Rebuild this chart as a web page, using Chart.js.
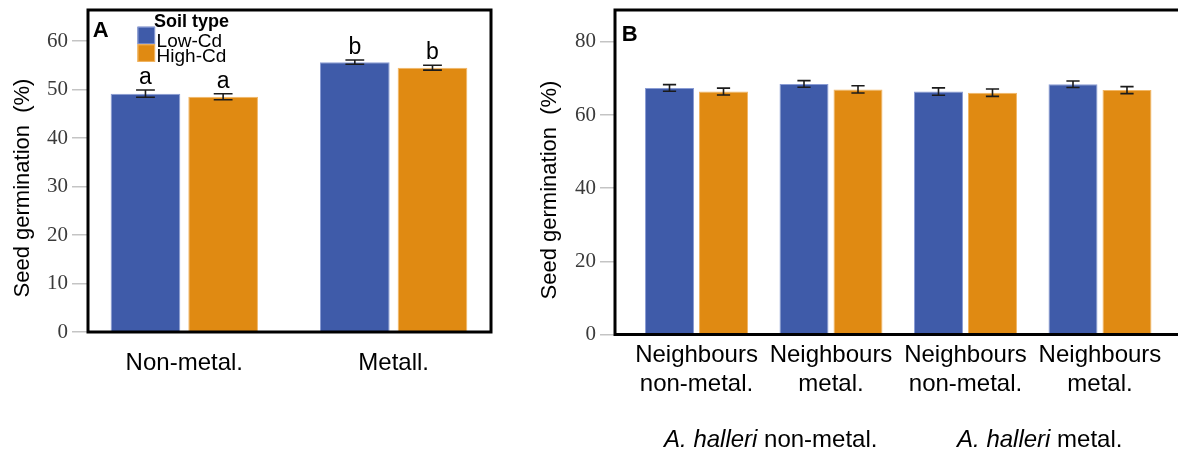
<!DOCTYPE html>
<html>
<head>
<meta charset="utf-8">
<script src="https://cdn.jsdelivr.net/npm/chart.js@4/dist/chart.umd.min.js"></script>
<style>
  html, body { margin: 0; padding: 0; background: #fff; }
  #wrap { position: relative; width: 1178px; height: 450px; overflow: hidden; }
  canvas { position: absolute; top: 0; }
  #panelA { left: 0; }
  #panelB { left: 530px; }
</style>
</head>
<body>
<div id="wrap">
  <canvas id="panelA" width="530" height="450"></canvas>
  <canvas id="panelB" width="648" height="450"></canvas>
</div>
<script>
// ---- Panel A: germination by seed origin ----
const originA = ['Non-metal.', 'Metall.'];
const lowCdA = [49.15, 55.65];
const highCdA = [48.5, 54.5];
const lowCdSeA = [0.75, 0.45];
const highCdSeA = [0.62, 0.5];
const lowCdLettersA = ['a', 'b'];
const highCdLettersA = ['a', 'b'];
const yTicksA = [0, 10, 20, 30, 40, 50, 60];

// ---- Panel B: germination by neighbour origin within A. halleri origin ----
const neighboursB = [
  ['Neighbours', 'non-metal.'],
  ['Neighbours', 'metal.'],
  ['Neighbours', 'non-metal.'],
  ['Neighbours', 'metal.']
];
const halleriB = ['non-metal.', 'metal.'];
const lowCdB = [67.4, 68.5, 66.4, 68.4];
const highCdB = [66.4, 67.0, 66.1, 66.8];
const lowCdSeB = [0.9, 0.9, 1.0, 0.9];
const highCdSeB = [0.95, 1.0, 1.0, 0.95];
const yTicksB = [0, 20, 40, 60, 80];

const soilTypes = ['Low-Cd', 'High-Cd'];
const yTitle = 'Seed germination  (%)';

const BLUE = '#3F5BA9', BLUE_EDGE = '#8A9CD4';
const ORANGE = '#E08A12', ORANGE_EDGE = '#F2B766';
const SANS = '"Liberation Sans", Arial, Helvetica, sans-serif';
const SERIF = '"Liberation Serif", "Times New Roman", serif';

// Black panel frame plus the panel letter
const framePlugin = {
  id: 'frame',
  afterDraw(chart, args, o) {
    const { ctx, chartArea: a } = chart;
    ctx.save();
    ctx.strokeStyle = '#000';
    ctx.lineWidth = 3;
    ctx.lineJoin = 'miter';
    ctx.beginPath();
    if (o.openRight) {
      ctx.moveTo(chart.width + 2, a.top);
      ctx.lineTo(a.left, a.top);
      ctx.lineTo(a.left, a.bottom);
      ctx.lineTo(chart.width + 2, a.bottom);
    } else {
      ctx.rect(a.left, a.top, a.right - a.left, a.bottom - a.top);
    }
    ctx.stroke();
    ctx.fillStyle = '#000';
    ctx.font = 'bold 22px ' + SANS;
    ctx.textAlign = 'left';
    ctx.textBaseline = 'alphabetic';
    ctx.fillText(o.letter, a.left + o.dx, a.top + o.dy);
    ctx.restore();
  }
};

// Mean ± SE whiskers and significance letters
const errorBarPlugin = {
  id: 'errorBars',
  afterDatasetsDraw(chart) {
    const { ctx } = chart;
    const y = chart.scales.y;
    ctx.save();
    chart.data.datasets.forEach((ds, di) => {
      const meta = chart.getDatasetMeta(di);
      meta.data.forEach((bar, i) => {
        const v = ds.data[i].y, se = ds.errors[i];
        const top = y.getPixelForValue(v + se);
        const bot = y.getPixelForValue(v - se);
        const half = bar.width * 0.135;
        ctx.strokeStyle = '#1b1b1b';
        ctx.lineWidth = 1.6;
        ctx.beginPath();
        ctx.moveTo(bar.x, top); ctx.lineTo(bar.x, bot);
        ctx.moveTo(bar.x - half, top); ctx.lineTo(bar.x + half, top);
        ctx.moveTo(bar.x - half, bot); ctx.lineTo(bar.x + half, bot);
        ctx.stroke();
        if (ds.letters) {
          ctx.fillStyle = '#000';
          ctx.font = '23px ' + SANS;
          ctx.textAlign = 'center';
          ctx.textBaseline = 'alphabetic';
          ctx.fillText(ds.letters[i], bar.x, top - 6);
        }
      });
    });
    ctx.restore();
  }
};

// Rotated y-axis title
const yTitlePlugin = {
  id: 'yTitle',
  afterDraw(chart, args, o) {
    const { ctx } = chart;
    ctx.save();
    ctx.translate(o.x, o.y);
    ctx.rotate(-Math.PI / 2);
    ctx.fillStyle = '#000';
    ctx.font = '22px ' + SANS;
    ctx.textAlign = 'center';
    ctx.textBaseline = 'middle';
    ctx.fillText(yTitle, 0, 0);
    ctx.restore();
  }
};

// In-panel legend: title with stacked colour keys
const soilLegendPlugin = {
  id: 'soilLegend',
  afterDraw(chart, args, o) {
    const { ctx, chartArea: a } = chart;
    const x0 = a.left + o.dx, y0 = a.top + o.dy;
    const box = 17.6;
    ctx.save();
    ctx.fillStyle = '#000';
    ctx.font = 'bold 18px ' + SANS;
    ctx.textAlign = 'left';
    ctx.textBaseline = 'alphabetic';
    ctx.fillText('Soil type', x0 + 16.5, y0);
    chart.data.datasets.forEach((ds, i) => {
      const by = y0 - 0.3 + i * box;
      ctx.fillStyle = ds.backgroundColor;
      ctx.fillRect(x0, by, box, box);
      ctx.strokeStyle = ds.borderColor;
      ctx.lineWidth = 1;
      ctx.strokeRect(x0 + 0.5, by + 0.5, box - 1, box - 1);
      ctx.fillStyle = '#000';
      ctx.font = '19px ' + SANS;
      ctx.fillText(ds.label, x0 + box + 1.5, by + 20.3 - i * 2.6);
    });
    ctx.restore();
  }
};

// Second-level grouping under panel B (A. halleri origin)
const halleriPlugin = {
  id: 'halleri',
  afterDraw(chart, args, o) {
    const { ctx } = chart;
    const x = chart.scales.x;
    ctx.save();
    ctx.fillStyle = '#000';
    ctx.textBaseline = 'alphabetic';
    ctx.textAlign = 'left';
    halleriB.forEach((txt, g) => {
      const cx = (x.getPixelForValue(2 * g) + x.getPixelForValue(2 * g + 1)) / 2 + o.nudge;
      ctx.font = 'italic 24px ' + SANS;
      const w1 = ctx.measureText('A. halleri').width;
      ctx.font = '24px ' + SANS;
      const w2 = ctx.measureText(' ' + txt).width;
      const left = cx - (w1 + w2) / 2;
      ctx.font = 'italic 24px ' + SANS;
      ctx.fillText('A. halleri', left, o.baseline);
      ctx.font = '24px ' + SANS;
      ctx.fillText(' ' + txt, left + w1, o.baseline);
    });
    ctx.restore();
  }
};

function series(labels, values) {
  return labels.map((_, i) => ({ x: i, y: values[i] }));
}

function noAxisPadding(s) {
  s.paddingTop = 0; s.paddingBottom = 0; s.paddingLeft = 0; s.paddingRight = 0;
}

function yAxis(ticks, max, width, tickLength) {
  return {
    min: 0,
    max: max,
    afterBuildTicks: s => { s.ticks = ticks.map(v => ({ value: v })); },
    afterFit: s => { s.width = width; noAxisPadding(s); },
    grid: { drawOnChartArea: false, drawTicks: true, tickLength: tickLength, color: '#c4c4c4', lineWidth: 1.5 },
    border: { display: false },
    ticks: { padding: 4, color: '#3a3a3a', font: { family: SERIF, size: 21 } }
  };
}

function xAxis(labels, min, max, height, pad) {
  return {
    type: 'linear',
    min: min,
    max: max,
    offset: false,
    afterBuildTicks: s => { s.ticks = labels.map((_, i) => ({ value: i })); },
    afterFit: s => { s.height = height; noAxisPadding(s); },
    grid: { display: false, drawTicks: false },
    border: { display: false },
    ticks: {
      autoSkip: false, maxRotation: 0, padding: pad, color: '#000',
      font: { family: SANS, size: 24, lineHeight: 1.225 },
      callback: v => labels[v]
    }
  };
}

new Chart(document.getElementById('panelA'), {
  type: 'bar',
  data: {
    datasets: [
      { label: soilTypes[0], data: series(originA, lowCdA), errors: lowCdSeA, letters: lowCdLettersA,
        backgroundColor: BLUE, borderColor: BLUE_EDGE, borderWidth: 1, categoryPercentage: 0.742, barPercentage: 0.897 },
      { label: soilTypes[1], data: series(originA, highCdA), errors: highCdSeA, letters: highCdLettersA,
        backgroundColor: ORANGE, borderColor: ORANGE_EDGE, borderWidth: 1, categoryPercentage: 0.742, barPercentage: 0.897 }
    ]
  },
  options: {
    responsive: false,
    animation: false,
    devicePixelRatio: 1,
    layout: { padding: { top: 10, right: 39, bottom: 0, left: 0 } },
    plugins: {
      legend: { display: false },
      tooltip: { enabled: false },
      frame: { letter: 'A', dx: 4.7, dy: 26.5, openRight: false },
      yTitle: { x: 23, y: 188 },
      soilLegend: { dx: 49.5, dy: 17 }
    },
    scales: {
      x: xAxis(originA, -0.46, 1.465, 118, 16.6),
      y: yAxis(yTicksA, 66.4, 88, 16)
    }
  },
  plugins: [errorBarPlugin, framePlugin, yTitlePlugin, soilLegendPlugin]
});

new Chart(document.getElementById('panelB'), {
  type: 'bar',
  data: {
    datasets: [
      { label: soilTypes[0], data: series(neighboursB, lowCdB), errors: lowCdSeB,
        backgroundColor: BLUE, borderColor: BLUE_EDGE, borderWidth: 1, categoryPercentage: 0.803, barPercentage: 0.907 },
      { label: soilTypes[1], data: series(neighboursB, highCdB), errors: highCdSeB,
        backgroundColor: ORANGE, borderColor: ORANGE_EDGE, borderWidth: 1, categoryPercentage: 0.803, barPercentage: 0.907 }
    ]
  },
  options: {
    responsive: false,
    animation: false,
    devicePixelRatio: 1,
    layout: { padding: { top: 10, right: 0, bottom: 0, left: 0 } },
    plugins: {
      legend: { display: false },
      tooltip: { enabled: false },
      frame: { letter: 'B', dx: 6.7, dy: 30.5, openRight: true },
      yTitle: { x: 20, y: 190 },
      halleri: { baseline: 447, nudge: 7 }
    },
    scales: {
      x: xAxis(neighboursB, -0.606, 3.58, 115.5, 5.8),
      y: yAxis(yTicksB, 88.7, 85, 15)
    }
  },
  plugins: [errorBarPlugin, framePlugin, yTitlePlugin, halleriPlugin]
});
</script>
</body>
</html>
